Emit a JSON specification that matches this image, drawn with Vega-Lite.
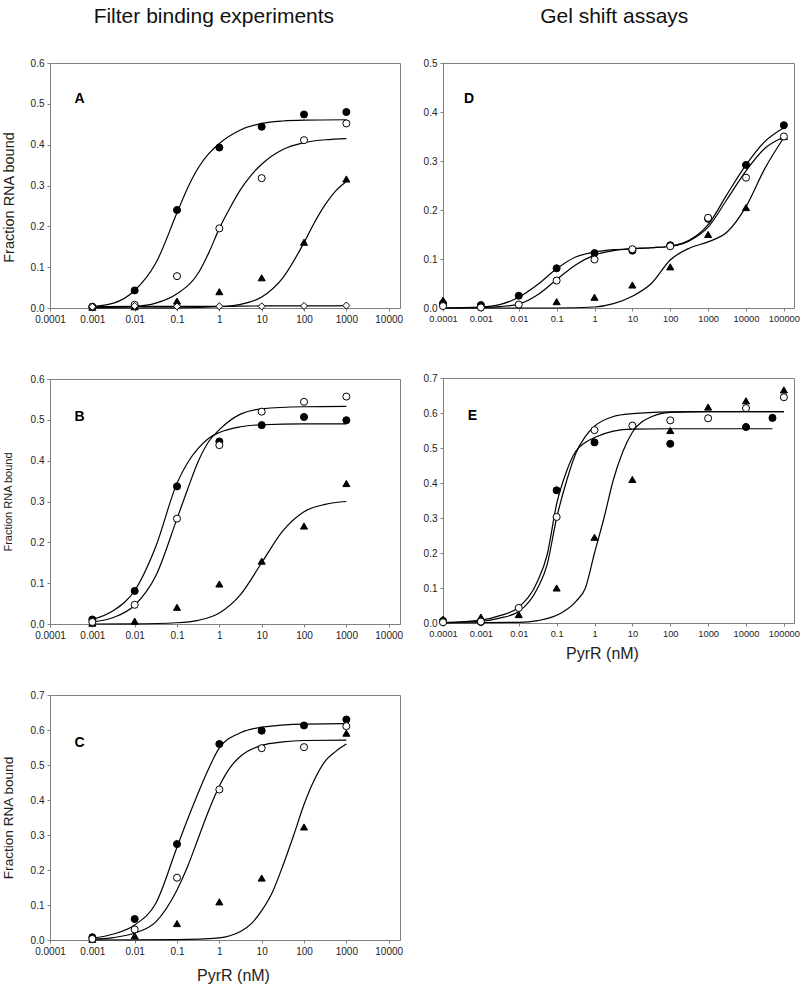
{
  "$schema": "https://vega.github.io/schema/vega-lite/v6.json",
  "padding": {"top": 5, "left": 0, "right": 0, "bottom": 0},
  "background": "white",
  "config": {
    "view": {"stroke": "#808080", "strokeWidth": 1},
    "axis": {"grid": false, "domainColor": "#808080", "tickColor": "#808080", "tickSize": 3, "labelFont": "Liberation Sans", "labelFontSize": 10, "labelColor": "#222222", "labelPadding": 3, "titleFont": "Liberation Sans", "titleFontWeight": "normal", "titleColor": "#222222", "labelOverlap": false, "labelFlush": false},
    "title": {"font": "Liberation Sans", "fontSize": 21, "fontWeight": "normal", "color": "#111111"},
    "line": {"color": "black", "strokeWidth": 1.2, "interpolate": "monotone"},
    "point": {"filled": true, "stroke": "black", "strokeWidth": 1, "size": 50, "opacity": 1},
    "text": {"font": "Liberation Sans", "fontSize": 14, "fontWeight": "bold", "align": "left", "baseline": "alphabetic", "color": "black"}
  },
  "datasets": {
    "A_pts": [
      {"x": 0.001, "y": 0.002, "s": "tri"}, {"x": 0.01, "y": 0.003, "s": "tri"}, {"x": 0.1, "y": 0.017, "s": "tri"}, {"x": 1, "y": 0.04, "s": "tri"}, {"x": 10, "y": 0.074, "s": "tri"}, {"x": 100, "y": 0.161, "s": "tri"}, {"x": 1000, "y": 0.316, "s": "tri"},
      {"x": 0.001, "y": 0.003, "s": "filled"}, {"x": 0.01, "y": 0.043, "s": "filled"}, {"x": 0.1, "y": 0.24, "s": "filled"}, {"x": 1, "y": 0.393, "s": "filled"}, {"x": 10, "y": 0.444, "s": "filled"}, {"x": 100, "y": 0.474, "s": "filled"}, {"x": 1000, "y": 0.48, "s": "filled"},
      {"x": 0.001, "y": 0.003, "s": "open"}, {"x": 0.01, "y": 0.008, "s": "open"}, {"x": 0.1, "y": 0.078, "s": "open"}, {"x": 1, "y": 0.195, "s": "open"}, {"x": 10, "y": 0.318, "s": "open"}, {"x": 100, "y": 0.411, "s": "open"}, {"x": 1000, "y": 0.452, "s": "open"},
      {"x": 0.001, "y": 0.003, "s": "diamond"}, {"x": 0.01, "y": 0.005, "s": "diamond"}, {"x": 0.1, "y": 0.004, "s": "diamond"}, {"x": 1, "y": 0.004, "s": "diamond"}, {"x": 10, "y": 0.004, "s": "diamond"}, {"x": 100, "y": 0.005, "s": "diamond"}, {"x": 1000, "y": 0.006, "s": "diamond"}
    ],
    "A_fit": [
      {"x": 0.001, "y": 0.004, "s": "filled"}, {"x": 0.00316, "y": 0.012, "s": "filled"}, {"x": 0.01, "y": 0.043, "s": "filled"}, {"x": 0.0316, "y": 0.11, "s": "filled"}, {"x": 0.1, "y": 0.233, "s": "filled"}, {"x": 0.178, "y": 0.294, "s": "filled"}, {"x": 0.316, "y": 0.343, "s": "filled"}, {"x": 0.562, "y": 0.378, "s": "filled"}, {"x": 1, "y": 0.403, "s": "filled"}, {"x": 3.16, "y": 0.436, "s": "filled"}, {"x": 10, "y": 0.452, "s": "filled"}, {"x": 31.6, "y": 0.458, "s": "filled"}, {"x": 100, "y": 0.46, "s": "filled"}, {"x": 1000, "y": 0.461, "s": "filled"},
      {"x": 0.001, "y": 0.001, "s": "open"}, {"x": 0.01, "y": 0.004, "s": "open"}, {"x": 0.0316, "y": 0.012, "s": "open"}, {"x": 0.1, "y": 0.035, "s": "open"}, {"x": 0.316, "y": 0.085, "s": "open"}, {"x": 0.562, "y": 0.135, "s": "open"}, {"x": 1, "y": 0.195, "s": "open"}, {"x": 1.78, "y": 0.245, "s": "open"}, {"x": 3.16, "y": 0.29, "s": "open"}, {"x": 5.62, "y": 0.325, "s": "open"}, {"x": 10, "y": 0.352, "s": "open"}, {"x": 31.6, "y": 0.388, "s": "open"}, {"x": 100, "y": 0.405, "s": "open"}, {"x": 316, "y": 0.412, "s": "open"}, {"x": 1000, "y": 0.415, "s": "open"},
      {"x": 0.001, "y": 0.0, "s": "tri"}, {"x": 0.1, "y": 0.0003, "s": "tri"}, {"x": 1, "y": 0.003, "s": "tri"}, {"x": 3.16, "y": 0.009, "s": "tri"}, {"x": 10, "y": 0.027, "s": "tri"}, {"x": 31.6, "y": 0.074, "s": "tri"}, {"x": 100, "y": 0.16, "s": "tri"}, {"x": 178, "y": 0.21, "s": "tri"}, {"x": 316, "y": 0.253, "s": "tri"}, {"x": 562, "y": 0.287, "s": "tri"}, {"x": 1000, "y": 0.31, "s": "tri"},
      {"x": 0.001, "y": 0.003, "s": "diamond"}, {"x": 0.01, "y": 0.004, "s": "diamond"}, {"x": 0.1, "y": 0.004, "s": "diamond"}, {"x": 1, "y": 0.004, "s": "diamond"}, {"x": 10, "y": 0.005, "s": "diamond"}, {"x": 100, "y": 0.005, "s": "diamond"}, {"x": 1000, "y": 0.006, "s": "diamond"}
    ],
    "B_pts": [
      {"x": 0.001, "y": 0.002, "s": "tri"}, {"x": 0.01, "y": 0.007, "s": "tri"}, {"x": 0.1, "y": 0.041, "s": "tri"}, {"x": 1, "y": 0.098, "s": "tri"}, {"x": 10, "y": 0.154, "s": "tri"}, {"x": 100, "y": 0.24, "s": "tri"}, {"x": 1000, "y": 0.344, "s": "tri"},
      {"x": 0.001, "y": 0.011, "s": "filled"}, {"x": 0.01, "y": 0.081, "s": "filled"}, {"x": 0.1, "y": 0.337, "s": "filled"}, {"x": 1, "y": 0.447, "s": "filled"}, {"x": 10, "y": 0.487, "s": "filled"}, {"x": 100, "y": 0.507, "s": "filled"}, {"x": 1000, "y": 0.499, "s": "filled"},
      {"x": 0.001, "y": 0.005, "s": "open"}, {"x": 0.01, "y": 0.047, "s": "open"}, {"x": 0.1, "y": 0.258, "s": "open"}, {"x": 1, "y": 0.438, "s": "open"}, {"x": 10, "y": 0.52, "s": "open"}, {"x": 100, "y": 0.544, "s": "open"}, {"x": 1000, "y": 0.557, "s": "open"}
    ],
    "B_fit": [
      {"x": 0.001, "y": 0.011, "s": "filled"}, {"x": 0.00316, "y": 0.033, "s": "filled"}, {"x": 0.01, "y": 0.082, "s": "filled"}, {"x": 0.0316, "y": 0.19, "s": "filled"}, {"x": 0.1, "y": 0.345, "s": "filled"}, {"x": 0.178, "y": 0.395, "s": "filled"}, {"x": 0.316, "y": 0.43, "s": "filled"}, {"x": 0.562, "y": 0.455, "s": "filled"}, {"x": 1, "y": 0.469, "s": "filled"}, {"x": 3.16, "y": 0.483, "s": "filled"}, {"x": 10, "y": 0.488, "s": "filled"}, {"x": 100, "y": 0.49, "s": "filled"}, {"x": 1000, "y": 0.49, "s": "filled"},
      {"x": 0.001, "y": 0.005, "s": "open"}, {"x": 0.00316, "y": 0.016, "s": "open"}, {"x": 0.01, "y": 0.046, "s": "open"}, {"x": 0.0316, "y": 0.118, "s": "open"}, {"x": 0.1, "y": 0.258, "s": "open"}, {"x": 0.178, "y": 0.33, "s": "open"}, {"x": 0.316, "y": 0.398, "s": "open"}, {"x": 0.562, "y": 0.447, "s": "open"}, {"x": 1, "y": 0.476, "s": "open"}, {"x": 3.16, "y": 0.514, "s": "open"}, {"x": 10, "y": 0.527, "s": "open"}, {"x": 100, "y": 0.532, "s": "open"}, {"x": 1000, "y": 0.533, "s": "open"},
      {"x": 0.001, "y": 0.0, "s": "tri"}, {"x": 0.01, "y": 0.0003, "s": "tri"}, {"x": 0.1, "y": 0.003, "s": "tri"}, {"x": 0.316, "y": 0.009, "s": "tri"}, {"x": 1, "y": 0.027, "s": "tri"}, {"x": 3.16, "y": 0.072, "s": "tri"}, {"x": 10, "y": 0.15, "s": "tri"}, {"x": 31.6, "y": 0.228, "s": "tri"}, {"x": 100, "y": 0.275, "s": "tri"}, {"x": 316, "y": 0.293, "s": "tri"}, {"x": 1000, "y": 0.3, "s": "tri"}
    ],
    "C_pts": [
      {"x": 0.001, "y": 0.002, "s": "tri"}, {"x": 0.01, "y": 0.012, "s": "tri"}, {"x": 0.1, "y": 0.047, "s": "tri"}, {"x": 1, "y": 0.109, "s": "tri"}, {"x": 10, "y": 0.177, "s": "tri"}, {"x": 100, "y": 0.323, "s": "tri"}, {"x": 1000, "y": 0.591, "s": "tri"},
      {"x": 0.001, "y": 0.008, "s": "filled"}, {"x": 0.01, "y": 0.06, "s": "filled"}, {"x": 0.1, "y": 0.274, "s": "filled"}, {"x": 1, "y": 0.56, "s": "filled"}, {"x": 10, "y": 0.598, "s": "filled"}, {"x": 100, "y": 0.613, "s": "filled"}, {"x": 1000, "y": 0.63, "s": "filled"},
      {"x": 0.001, "y": 0.003, "s": "open"}, {"x": 0.01, "y": 0.03, "s": "open"}, {"x": 0.1, "y": 0.178, "s": "open"}, {"x": 1, "y": 0.43, "s": "open"}, {"x": 10, "y": 0.548, "s": "open"}, {"x": 100, "y": 0.551, "s": "open"}, {"x": 1000, "y": 0.611, "s": "open"}
    ],
    "C_fit": [
      {"x": 0.001, "y": 0.005, "s": "filled"}, {"x": 0.00316, "y": 0.017, "s": "filled"}, {"x": 0.01, "y": 0.043, "s": "filled"}, {"x": 0.0316, "y": 0.105, "s": "filled"}, {"x": 0.1, "y": 0.265, "s": "filled"}, {"x": 0.178, "y": 0.345, "s": "filled"}, {"x": 0.316, "y": 0.42, "s": "filled"}, {"x": 0.562, "y": 0.49, "s": "filled"}, {"x": 1, "y": 0.549, "s": "filled"}, {"x": 3.16, "y": 0.592, "s": "filled"}, {"x": 10, "y": 0.608, "s": "filled"}, {"x": 100, "y": 0.617, "s": "filled"}, {"x": 1000, "y": 0.618, "s": "filled"},
      {"x": 0.001, "y": 0.002, "s": "open"}, {"x": 0.00316, "y": 0.007, "s": "open"}, {"x": 0.01, "y": 0.02, "s": "open"}, {"x": 0.0316, "y": 0.052, "s": "open"}, {"x": 0.1, "y": 0.143, "s": "open"}, {"x": 0.178, "y": 0.21, "s": "open"}, {"x": 0.316, "y": 0.29, "s": "open"}, {"x": 0.562, "y": 0.37, "s": "open"}, {"x": 1, "y": 0.44, "s": "open"}, {"x": 1.78, "y": 0.492, "s": "open"}, {"x": 3.16, "y": 0.525, "s": "open"}, {"x": 10, "y": 0.556, "s": "open"}, {"x": 31.6, "y": 0.566, "s": "open"}, {"x": 100, "y": 0.57, "s": "open"}, {"x": 1000, "y": 0.571, "s": "open"},
      {"x": 0.001, "y": 0.0, "s": "tri"}, {"x": 0.1, "y": 0.001, "s": "tri"}, {"x": 1, "y": 0.006, "s": "tri"}, {"x": 1.78, "y": 0.012, "s": "tri"}, {"x": 3.16, "y": 0.024, "s": "tri"}, {"x": 5.62, "y": 0.046, "s": "tri"}, {"x": 10, "y": 0.084, "s": "tri"}, {"x": 17.8, "y": 0.136, "s": "tri"}, {"x": 31.6, "y": 0.212, "s": "tri"}, {"x": 56.2, "y": 0.297, "s": "tri"}, {"x": 100, "y": 0.387, "s": "tri"}, {"x": 178, "y": 0.459, "s": "tri"}, {"x": 316, "y": 0.511, "s": "tri"}, {"x": 562, "y": 0.539, "s": "tri"}, {"x": 1000, "y": 0.56, "s": "tri"}
    ],
    "D_pts": [
      {"x": 0.0001, "y": 0.016, "s": "tri"}, {"x": 0.1, "y": 0.013, "s": "tri"}, {"x": 1, "y": 0.022, "s": "tri"}, {"x": 10, "y": 0.047, "s": "tri"}, {"x": 100, "y": 0.084, "s": "tri"}, {"x": 1000, "y": 0.15, "s": "tri"}, {"x": 10000, "y": 0.205, "s": "tri"}, {"x": 100000, "y": 0.35, "s": "tri"},
      {"x": 0.0001, "y": 0.009, "s": "filled"}, {"x": 0.001, "y": 0.006, "s": "filled"}, {"x": 0.01, "y": 0.025, "s": "filled"}, {"x": 0.1, "y": 0.081, "s": "filled"}, {"x": 1, "y": 0.112, "s": "filled"}, {"x": 10, "y": 0.117, "s": "filled"}, {"x": 100, "y": 0.128, "s": "filled"}, {"x": 1000, "y": 0.182, "s": "filled"}, {"x": 10000, "y": 0.292, "s": "filled"}, {"x": 100000, "y": 0.373, "s": "filled"},
      {"x": 0.0001, "y": 0.004, "s": "open"}, {"x": 0.001, "y": 0.001, "s": "open"}, {"x": 0.01, "y": 0.007, "s": "open"}, {"x": 0.1, "y": 0.056, "s": "open"}, {"x": 1, "y": 0.099, "s": "open"}, {"x": 10, "y": 0.12, "s": "open"}, {"x": 100, "y": 0.126, "s": "open"}, {"x": 1000, "y": 0.184, "s": "open"}, {"x": 10000, "y": 0.266, "s": "open"}, {"x": 100000, "y": 0.35, "s": "open"}
    ],
    "D_fit": [
      {"x": 0.0001, "y": 0.0, "s": "filled"}, {"x": 0.001, "y": 0.002, "s": "filled"}, {"x": 0.00316, "y": 0.007, "s": "filled"}, {"x": 0.01, "y": 0.022, "s": "filled"}, {"x": 0.0316, "y": 0.048, "s": "filled"}, {"x": 0.1, "y": 0.08, "s": "filled"}, {"x": 0.316, "y": 0.104, "s": "filled"}, {"x": 1, "y": 0.114, "s": "filled"}, {"x": 3.16, "y": 0.119, "s": "filled"}, {"x": 10, "y": 0.121, "s": "filled"}, {"x": 31.6, "y": 0.123, "s": "filled"}, {"x": 100, "y": 0.126, "s": "filled"}, {"x": 316, "y": 0.138, "s": "filled"}, {"x": 1000, "y": 0.17, "s": "filled"}, {"x": 3162, "y": 0.232, "s": "filled"}, {"x": 10000, "y": 0.292, "s": "filled"}, {"x": 31623, "y": 0.34, "s": "filled"}, {"x": 100000, "y": 0.368, "s": "filled"},
      {"x": 0.0001, "y": 0.0, "s": "open"}, {"x": 0.001, "y": 0.001, "s": "open"}, {"x": 0.00316, "y": 0.003, "s": "open"}, {"x": 0.01, "y": 0.008, "s": "open"}, {"x": 0.0316, "y": 0.027, "s": "open"}, {"x": 0.1, "y": 0.058, "s": "open"}, {"x": 0.316, "y": 0.088, "s": "open"}, {"x": 1, "y": 0.108, "s": "open"}, {"x": 3.16, "y": 0.117, "s": "open"}, {"x": 10, "y": 0.121, "s": "open"}, {"x": 31.6, "y": 0.123, "s": "open"}, {"x": 100, "y": 0.126, "s": "open"}, {"x": 316, "y": 0.137, "s": "open"}, {"x": 1000, "y": 0.165, "s": "open"}, {"x": 3162, "y": 0.222, "s": "open"}, {"x": 10000, "y": 0.28, "s": "open"}, {"x": 31623, "y": 0.326, "s": "open"}, {"x": 100000, "y": 0.349, "s": "open"},
      {"x": 0.0001, "y": 0.0, "s": "tri"}, {"x": 0.1, "y": 0.0, "s": "tri"}, {"x": 1, "y": 0.002, "s": "tri"}, {"x": 3.16, "y": 0.009, "s": "tri"}, {"x": 10, "y": 0.024, "s": "tri"}, {"x": 31.6, "y": 0.05, "s": "tri"}, {"x": 100, "y": 0.098, "s": "tri"}, {"x": 316, "y": 0.122, "s": "tri"}, {"x": 1000, "y": 0.135, "s": "tri"}, {"x": 3162, "y": 0.155, "s": "tri"}, {"x": 10000, "y": 0.207, "s": "tri"}, {"x": 31623, "y": 0.285, "s": "tri"}, {"x": 100000, "y": 0.348, "s": "tri"}
    ],
    "E_pts": [
      {"x": 0.0001, "y": 0.011, "s": "tri"}, {"x": 0.001, "y": 0.017, "s": "tri"}, {"x": 0.01, "y": 0.024, "s": "tri"}, {"x": 0.1, "y": 0.1, "s": "tri"}, {"x": 1, "y": 0.245, "s": "tri"}, {"x": 10, "y": 0.41, "s": "tri"}, {"x": 100, "y": 0.55, "s": "tri"}, {"x": 1000, "y": 0.617, "s": "tri"}, {"x": 10000, "y": 0.635, "s": "tri"}, {"x": 100000, "y": 0.666, "s": "tri"},
      {"x": 0.0001, "y": 0.006, "s": "filled"}, {"x": 0.001, "y": 0.003, "s": "filled"}, {"x": 0.1, "y": 0.379, "s": "filled"}, {"x": 1, "y": 0.516, "s": "filled"}, {"x": 100, "y": 0.512, "s": "filled"}, {"x": 10000, "y": 0.56, "s": "filled"}, {"x": 50000, "y": 0.586, "s": "filled"},
      {"x": 0.0001, "y": 0.002, "s": "open"}, {"x": 0.001, "y": 0.004, "s": "open"}, {"x": 0.01, "y": 0.043, "s": "open"}, {"x": 0.1, "y": 0.303, "s": "open"}, {"x": 1, "y": 0.551, "s": "open"}, {"x": 10, "y": 0.564, "s": "open"}, {"x": 100, "y": 0.579, "s": "open"}, {"x": 1000, "y": 0.585, "s": "open"}, {"x": 10000, "y": 0.614, "s": "open"}, {"x": 100000, "y": 0.645, "s": "open"}
    ],
    "E_fit": [
      {"x": 0.0001, "y": 0.001, "s": "filled"}, {"x": 0.001, "y": 0.008, "s": "filled"}, {"x": 0.00316, "y": 0.021, "s": "filled"}, {"x": 0.01, "y": 0.045, "s": "filled"}, {"x": 0.0316, "y": 0.12, "s": "filled"}, {"x": 0.0562, "y": 0.195, "s": "filled"}, {"x": 0.1, "y": 0.34, "s": "filled"}, {"x": 0.178, "y": 0.43, "s": "filled"}, {"x": 0.316, "y": 0.49, "s": "filled"}, {"x": 0.562, "y": 0.515, "s": "filled"}, {"x": 1, "y": 0.53, "s": "filled"}, {"x": 3.16, "y": 0.548, "s": "filled"}, {"x": 10, "y": 0.554, "s": "filled"}, {"x": 100, "y": 0.555, "s": "filled"}, {"x": 50000, "y": 0.555, "s": "filled"},
      {"x": 0.0001, "y": 0.001, "s": "open"}, {"x": 0.001, "y": 0.005, "s": "open"}, {"x": 0.00316, "y": 0.014, "s": "open"}, {"x": 0.01, "y": 0.033, "s": "open"}, {"x": 0.0316, "y": 0.1, "s": "open"}, {"x": 0.0562, "y": 0.167, "s": "open"}, {"x": 0.1, "y": 0.3, "s": "open"}, {"x": 0.182, "y": 0.405, "s": "open"}, {"x": 0.324, "y": 0.486, "s": "open"}, {"x": 0.575, "y": 0.533, "s": "open"}, {"x": 1, "y": 0.562, "s": "open"}, {"x": 3.16, "y": 0.59, "s": "open"}, {"x": 10, "y": 0.598, "s": "open"}, {"x": 100, "y": 0.603, "s": "open"}, {"x": 1000, "y": 0.604, "s": "open"}, {"x": 100000, "y": 0.604, "s": "open"},
      {"x": 0.0001, "y": 0.0, "s": "tri"}, {"x": 0.01, "y": 0.002, "s": "tri"}, {"x": 0.0316, "y": 0.007, "s": "tri"}, {"x": 0.1, "y": 0.022, "s": "tri"}, {"x": 0.324, "y": 0.062, "s": "tri"}, {"x": 0.575, "y": 0.1, "s": "tri"}, {"x": 1, "y": 0.2, "s": "tri"}, {"x": 1.78, "y": 0.3, "s": "tri"}, {"x": 3.16, "y": 0.41, "s": "tri"}, {"x": 5.62, "y": 0.49, "s": "tri"}, {"x": 10, "y": 0.545, "s": "tri"}, {"x": 33, "y": 0.59, "s": "tri"}, {"x": 100, "y": 0.602, "s": "tri"}, {"x": 1000, "y": 0.604, "s": "tri"}, {"x": 100000, "y": 0.604, "s": "tri"}
    ]
  },
  "resolve": {"scale": {"x": "independent", "y": "independent"}},
  "spacing": 18,
  "hconcat": [
    {
      "title": {"text": "Filter binding experiments", "anchor": "middle", "baseline": "alphabetic", "offset": 14, "dx": 12},
      "resolve": {"scale": {"x": "independent", "y": "independent"}},
      "spacing": 48,
      "vconcat": [
        {
          "width": 350, "height": 245,
          "encoding": {
            "x": {"field": "x", "type": "quantitative", "scale": {"type": "log", "domain": [0.0001, 18500], "nice": false}, "axis": {"values": [0.0001, 0.001, 0.01, 0.1, 1, 10, 100, 1000, 10000], "format": "~g", "title": null}},
            "y": {"field": "y", "type": "quantitative", "scale": {"domain": [0, 0.6], "nice": false}, "axis": {"values": [0, 0.1, 0.2, 0.3, 0.4, 0.5, 0.6], "format": ".1f", "title": "Fraction RNA bound", "titleFont": "Liberation Sans Narrow, Liberation Sans", "titleFontSize": 14.5, "titlePadding": 14, "titleY": 134}}
          },
          "layer": [
            {"data": {"name": "A_fit"}, "mark": "line", "encoding": {"detail": {"field": "s"}}},
            {"data": {"name": "A_pts"}, "mark": "point", "encoding": {
              "shape": {"field": "s", "scale": {"domain": ["filled", "open", "tri", "diamond"], "range": ["circle", "circle", "triangle-up", "diamond"]}, "legend": null},
              "fill": {"field": "s", "scale": {"domain": ["filled", "open", "tri", "diamond"], "range": ["black", "white", "black", "white"]}, "legend": null}}},
            {"data": {"values": [{"x": 0.00038, "y": 0.502, "t": "A"}]}, "mark": "text", "encoding": {"text": {"field": "t"}}}
          ]
        },
        {
          "width": 350, "height": 245,
          "encoding": {
            "x": {"field": "x", "type": "quantitative", "scale": {"type": "log", "domain": [0.0001, 18500], "nice": false}, "axis": {"values": [0.0001, 0.001, 0.01, 0.1, 1, 10, 100, 1000, 10000], "format": "~g", "title": null}},
            "y": {"field": "y", "type": "quantitative", "scale": {"domain": [0, 0.6], "nice": false}, "axis": {"values": [0, 0.1, 0.2, 0.3, 0.4, 0.5, 0.6], "format": ".1f", "title": "Fraction RNA bound", "titleFontSize": 11, "titlePadding": 17}}
          },
          "layer": [
            {"data": {"name": "B_fit"}, "mark": "line", "encoding": {"detail": {"field": "s"}}},
            {"data": {"name": "B_pts"}, "mark": "point", "encoding": {
              "shape": {"field": "s", "scale": {"domain": ["filled", "open", "tri", "diamond"], "range": ["circle", "circle", "triangle-up", "diamond"]}, "legend": null},
              "fill": {"field": "s", "scale": {"domain": ["filled", "open", "tri", "diamond"], "range": ["black", "white", "black", "white"]}, "legend": null}}},
            {"data": {"values": [{"x": 0.00038, "y": 0.496, "t": "B"}]}, "mark": "text", "encoding": {"text": {"field": "t"}}}
          ]
        },
        {
          "width": 350, "height": 245,
          "encoding": {
            "x": {"field": "x", "type": "quantitative", "scale": {"type": "log", "domain": [0.0001, 18500], "nice": false}, "axis": {"values": [0.0001, 0.001, 0.01, 0.1, 1, 10, 100, 1000, 10000], "format": "~g", "title": "PyrR (nM)", "titleFontSize": 16, "titlePadding": 11, "titleX": 183}},
            "y": {"field": "y", "type": "quantitative", "scale": {"domain": [0, 0.7], "nice": false}, "axis": {"values": [0, 0.1, 0.2, 0.3, 0.4, 0.5, 0.6, 0.7], "format": ".1f", "title": "Fraction RNA bound", "titleFontSize": 13.6, "titlePadding": 15}}
          },
          "layer": [
            {"data": {"name": "C_fit"}, "mark": "line", "encoding": {"detail": {"field": "s"}}},
            {"data": {"name": "C_pts"}, "mark": "point", "encoding": {
              "shape": {"field": "s", "scale": {"domain": ["filled", "open", "tri", "diamond"], "range": ["circle", "circle", "triangle-up", "diamond"]}, "legend": null},
              "fill": {"field": "s", "scale": {"domain": ["filled", "open", "tri", "diamond"], "range": ["black", "white", "black", "white"]}, "legend": null}}},
            {"data": {"values": [{"x": 0.00038, "y": 0.551, "t": "C"}]}, "mark": "text", "encoding": {"text": {"field": "t"}}}
          ]
        }
      ]
    },
    {
      "title": {"text": "Gel shift assays", "anchor": "middle", "baseline": "alphabetic", "offset": 14, "dx": 3},
      "resolve": {"scale": {"x": "independent", "y": "independent"}},
      "spacing": 48,
      "vconcat": [
        {
          "width": 351, "height": 245,
          "encoding": {
            "x": {"field": "x", "type": "quantitative", "scale": {"type": "log", "domain": [0.0001, 185000], "nice": false}, "axis": {"values": [0.0001, 0.001, 0.01, 0.1, 1, 10, 100, 1000, 10000, 100000], "format": "~g", "title": null, "labelFontSize": 9.3}},
            "y": {"field": "y", "type": "quantitative", "scale": {"domain": [0, 0.5], "nice": false}, "axis": {"values": [0, 0.1, 0.2, 0.3, 0.4, 0.5], "format": ".1f", "title": null}}
          },
          "layer": [
            {"data": {"name": "D_fit"}, "mark": "line", "encoding": {"detail": {"field": "s"}}},
            {"data": {"name": "D_pts"}, "mark": "point", "encoding": {
              "shape": {"field": "s", "scale": {"domain": ["filled", "open", "tri", "diamond"], "range": ["circle", "circle", "triangle-up", "diamond"]}, "legend": null},
              "fill": {"field": "s", "scale": {"domain": ["filled", "open", "tri", "diamond"], "range": ["black", "white", "black", "white"]}, "legend": null}}},
            {"data": {"values": [{"x": 0.00036, "y": 0.418, "t": "D"}]}, "mark": "text", "encoding": {"text": {"field": "t"}}}
          ]
        },
        {
          "width": 351, "height": 245,
          "encoding": {
            "x": {"field": "x", "type": "quantitative", "scale": {"type": "log", "domain": [0.0001, 185000], "nice": false}, "axis": {"values": [0.0001, 0.001, 0.01, 0.1, 1, 10, 100, 1000, 10000, 100000], "format": "~g", "title": "PyrR (nM)", "labelFontSize": 9.3, "titleFontSize": 16, "titlePadding": 7, "titleX": 159}},
            "y": {"field": "y", "type": "quantitative", "scale": {"domain": [0, 0.7], "nice": false}, "axis": {"values": [0, 0.1, 0.2, 0.3, 0.4, 0.5, 0.6, 0.7], "format": ".1f", "title": null}}
          },
          "layer": [
            {"data": {"name": "E_fit"}, "mark": "line", "encoding": {"detail": {"field": "s"}}},
            {"data": {"name": "E_pts"}, "mark": "point", "encoding": {
              "shape": {"field": "s", "scale": {"domain": ["filled", "open", "tri", "diamond"], "range": ["circle", "circle", "triangle-up", "diamond"]}, "legend": null},
              "fill": {"field": "s", "scale": {"domain": ["filled", "open", "tri", "diamond"], "range": ["black", "white", "black", "white"]}, "legend": null}}},
            {"data": {"values": [{"x": 0.00045, "y": 0.579, "t": "E"}]}, "mark": "text", "encoding": {"text": {"field": "t"}}}
          ]
        }
      ]
    }
  ]
}
